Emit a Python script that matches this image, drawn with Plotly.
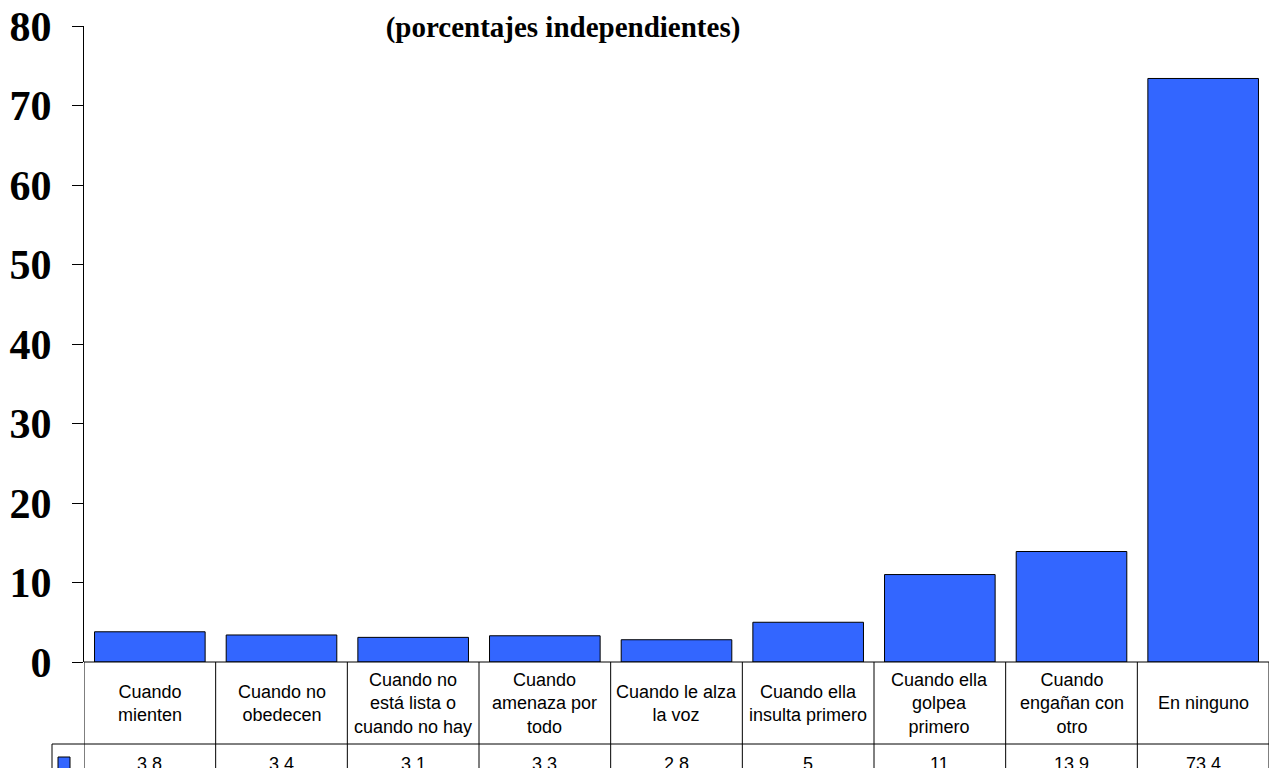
import plotly.graph_objects as go

# Data
categories = [
    "Cuando<br>mienten",
    "Cuando no<br>obedecen",
    "Cuando no<br>está lista o<br>cuando no hay",
    "Cuando<br>amenaza por<br>todo",
    "Cuando le alza<br>la voz",
    "Cuando ella<br>insulta primero",
    "Cuando ella<br>golpea<br>primero",
    "Cuando<br>engañan con<br>otro",
    "En ninguno",
]
values = [3.8, 3.4, 3.1, 3.3, 2.8, 5, 11, 13.9, 73.4]
value_labels = ["3.8", "3.4", "3.1", "3.3", "2.8", "5", "11", "13.9", "73.4"]
y_ticks = [0, 10, 20, 30, 40, 50, 60, 70, 80]

BAR_BLUE = "#3366FF"
W, H = 1269, 768
M_L, M_R, M_T, M_B = 84, 0, 26, 106
PLOT_H = H - M_T - M_B

def py(px_y):
    # pixel row -> paper y
    return (H - M_B - px_y) / PLOT_H

def px_(px_x):
    return (px_x - M_L) / (W - M_L - M_R)

n = len(categories)
xs = list(range(n))

fig = go.Figure()
fig.add_bar(
    x=xs, y=values,
    marker=dict(color=BAR_BLUE, line=dict(color="black", width=1)),
    showlegend=False, hoverinfo="y",
)

shapes = []
annotations = []
row1_bottom = py(744)
bottom = py(800)

# vertical lines of the data table at category boundaries
for i in range(n + 1):
    shapes.append(dict(type="line", xref="x", yref="paper",
                       x0=i - 0.5, x1=i - 0.5, y0=0, y1=bottom,
                       line=dict(color="black", width=1)))
# horizontal lines
shapes.append(dict(type="line", xref="paper", yref="paper",
                   x0=0, x1=1, y0=0, y1=0, line=dict(color="black", width=1)))
shapes.append(dict(type="line", xref="paper", yref="paper",
                   x0=px_(52), x1=1, y0=row1_bottom, y1=row1_bottom,
                   line=dict(color="black", width=1)))
# legend-key column
shapes.append(dict(type="line", xref="paper", yref="paper",
                   x0=px_(52), x1=px_(52), y0=row1_bottom, y1=bottom,
                   line=dict(color="black", width=1)))
shapes.append(dict(type="rect", xref="paper", yref="paper",
                   x0=px_(58), x1=px_(70), y0=py(757), y1=py(770),
                   fillcolor=BAR_BLUE, line=dict(color="black", width=1)))

for i, (cat, lab) in enumerate(zip(categories, value_labels)):
    annotations.append(dict(x=i, y=py(703), xref="x", yref="paper",
                            text=cat, showarrow=False, xanchor="center", yanchor="middle",
                            font=dict(family="Liberation Sans, Arial", size=18, color="black")))
    annotations.append(dict(x=i, y=py(764), xref="x", yref="paper",
                            text=lab, showarrow=False, xanchor="center", yanchor="middle",
                            font=dict(family="Liberation Sans, Arial", size=18, color="black")))

fig.update_layout(
    width=W, height=H,
    margin=dict(l=M_L, r=M_R, t=M_T, b=M_B),
    paper_bgcolor="white", plot_bgcolor="white",
    bargap=0.16,
    title=dict(text="<b>(porcentajes independientes)</b>",
               x=563 / W, xanchor="center", xref="container",
               y=1 - 27 / H, yanchor="middle", yref="container",
               font=dict(family="Liberation Serif, Times New Roman", size=29, color="black")),
    shapes=shapes,
    annotations=annotations,
)
fig.update_xaxes(range=[-0.5, n - 0.5], showticklabels=False, showgrid=False,
                 zeroline=False, showline=False, ticks="")
fig.update_yaxes(range=[0, 80], tickvals=y_ticks, showgrid=False, zeroline=False,
                 showline=True, linecolor="black", linewidth=1,
                 ticks="outside", ticklen=11, tickcolor="black",
                 ticklabelstandoff=12,
                 tickfont=dict(family="Liberation Serif, Times New Roman", size=42, color="black",
                               weight="bold"))

# drop the default page margin so the figure sits at the window's corner
fig.write_html("out.html", config={"displayModeBar": False},
               post_script="document.body.style.margin='0';")
